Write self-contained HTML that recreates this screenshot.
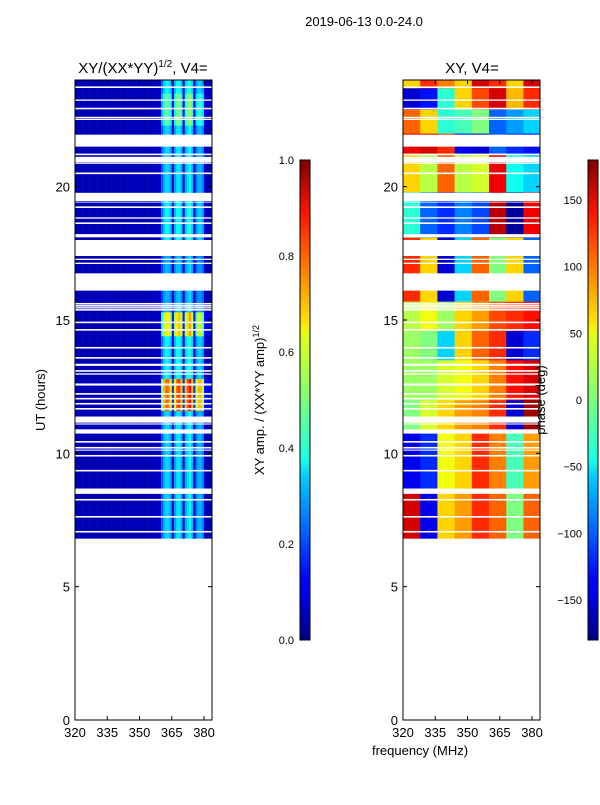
<!DOCTYPE html>
<html><head><meta charset="utf-8"><style>
body{margin:0;background:#fff;}
svg text{font-family:"Liberation Sans",sans-serif;fill:#000;}
</style></head><body>
<svg id="fig" width="600" height="800" xmlns="http://www.w3.org/2000/svg">
<defs>
<linearGradient id="jet" x1="0" y1="1" x2="0" y2="0">
<stop offset="0" stop-color="#00007f"/><stop offset="0.11" stop-color="#0000ff"/><stop offset="0.125" stop-color="#0000ff"/>
<stop offset="0.34" stop-color="#00ccff"/><stop offset="0.375" stop-color="#19ffe6"/><stop offset="0.5" stop-color="#7dff7a"/>
<stop offset="0.64" stop-color="#e6ff13"/><stop offset="0.66" stop-color="#ffe600"/><stop offset="0.89" stop-color="#ff1300"/><stop offset="1" stop-color="#7f0000"/>
</linearGradient>
<clipPath id="cl"><rect x="75" y="80" width="137" height="640"/></clipPath>
<clipPath id="cr"><rect x="403" y="80" width="137" height="640"/></clipPath>
</defs>
<text x="364" y="26" font-size="13" text-anchor="middle">2019-06-13 0.0-24.0</text>
<text x="143" y="73" font-size="15" text-anchor="middle">XY/(XX*YY)<tspan font-size="10" dy="-6">1/2</tspan><tspan dy="6">, V4=</tspan></text>
<text x="472" y="73" font-size="15" text-anchor="middle">XY, V4=</text>
<g id="gl" clip-path="url(#cl)"></g>
<g id="gr" clip-path="url(#cr)"></g>
<g id="axes"></g>
<text x="45" y="400" font-size="13" text-anchor="middle" transform="rotate(-90 45 400)">UT (hours)</text>
<text x="420" y="755" font-size="13" text-anchor="middle">frequency (MHz)</text>
<rect x="300" y="160" width="10" height="480" fill="url(#jet)" stroke="#000" stroke-width="1"/>
<rect x="588" y="160" width="10" height="480" fill="url(#jet)" stroke="#000" stroke-width="1"/>
<text x="264" y="400" font-size="13" text-anchor="middle" transform="rotate(-90 264 400)">XY amp. / (XX*YY amp)<tspan font-size="9" dy="-5">1/2</tspan></text>
<text x="545" y="400" font-size="13" text-anchor="middle" transform="rotate(-90 545 400)">phase (deg)</text>
</svg>
<script>
const freqStart=320, freqEnd=383.7, tMin=0, tMax=24;
const ampProfile=[0.05,0.05,0.05,0.06,0.05,0.05,0.06,0.05,0.05,0.05,0.06,0.05,0.05,0.05,0.06,0.05,0.05,0.05,0.06,0.05,0.05,0.06,0.05,0.05,0.05,0.06,0.05,0.05,0.06,0.05,0.05,0.06,0.05,0.05,0.06,0.05,0.06,0.06,0.07,0.08,
0.22,0.3,0.34,0.33,0.28,0.08,0.28,0.34,0.36,0.3,0.08,0.3,0.35,0.38,0.3,0.08,0.25,0.3,0.3,0.25,0.06,0.05,0.05,0.05];
const ampBlockStart=[6.8,11.6,12.8,14.4,15.3,18.0,19.5,22.3,23.5];
const ampBlockEnd=[11.6,12.8,14.4,15.3,18.0,19.5,22.3,23.5,24.0];
const ampScale=[1.0,2.3,1.1,1.9,0.9,1.1,1.0,1.4,1.1];
const phaseBlockStart=[6.8,8.5,10.8,12.0,13.5,14.6,15.7,16.7,18.1,19.8,21.2,22.0,22.9,23.7];
const phaseBlockEnd=[8.5,10.8,12.0,13.5,14.6,15.7,16.7,18.1,19.8,21.2,22.0,22.9,23.7,24.0];
const phaseValues=[
[150,-140,60,80,120,100,0,100],
[-140,-120,40,60,120,90,-20,80],
[0,30,60,80,90,120,-150,170],
[10,10,30,40,60,90,130,150],
[10,0,-60,60,100,120,-150,-120],
[20,40,10,60,80,110,120,130],
[120,60,-150,-60,100,0,60,-100],
[120,60,-150,-60,100,0,60,-100],
[-30,-100,-120,-90,-110,160,-170,140],
[60,20,100,20,30,140,-40,-60],
[140,150,120,-140,-150,-100,-120,-130],
[100,60,-30,-20,0,-100,-80,-60],
[-150,-130,-30,60,110,150,70,120],
[60,120,90,60,150,120,60,150]];
const gapStart=[0,7.03,7.59,8.23,8.48,9.32,9.88,10.1,10.18,10.4,10.74,11.08,11.15,11.64,11.83,12.02,12.2,12.54,12.95,13.06,13.28,13.55,13.93,14.6,14.88,15.35,15.43,15.5,15.58,16.1,17.1,17.25,17.4,18.1,18.6,18.8,19.2,19.4,19.45,20.47,20.85,20.9,21.18,21.5,22.5,22.57,22.9,23.22,23.7];
const gapEnd=[6.8,7.09,7.65,8.29,8.68,9.38,9.94,10.14,10.24,10.46,10.9,11.12,11.38,11.7,11.89,12.08,12.26,12.62,13.0,13.12,13.36,13.61,13.99,14.66,14.94,15.41,15.48,15.56,15.64,16.75,17.15,17.3,18.0,18.22,18.66,18.85,19.26,19.42,19.77,20.53,20.88,21.12,21.24,21.95,22.55,22.62,22.96,23.27,23.76];
const xTicks=[320,335,350,365,380];
const yTicks=[0,5,10,15,20];
const ampCbTicks=[0.0,0.2,0.4,0.6,0.8,1.0];
const phCbTicks=[-150,-100,-50,0,50,100,150];

const NS='http://www.w3.org/2000/svg';
function xs(f,x0){return x0+(f-freqStart)/(freqEnd-freqStart)*137;}
function ys(t){return 720-(t-tMin)/(tMax-tMin)*640;}
function jet(v){v=Math.max(0,Math.min(1,v));
 function c(x){return Math.max(0,Math.min(1,x));}
 const r=c(1.5-Math.abs(4*v-3)),g=c(1.5-Math.abs(4*v-2)),b=c(1.5-Math.abs(4*v-1));
 return 'rgb('+Math.round(r*255)+','+Math.round(g*255)+','+Math.round(b*255)+')';}
function mk(tag,attrs,parent){const e=document.createElementNS(NS,tag);for(const k in attrs)e.setAttribute(k,attrs[k]);parent.appendChild(e);return e;}
const gl=document.getElementById('gl'), gr=document.getElementById('gr'), ax=document.getElementById('axes');
for(let b=0;b<ampBlockStart.length;b++){
 const y0=ys(ampBlockEnd[b]), y1=ys(ampBlockStart[b]);
 for(let i=0;i<ampProfile.length;i++){
  const f=freqStart+i;
  const x0=xs(f,75), x1=xs(f+1,75);
  const v=i<40?ampProfile[i]:ampProfile[i]*ampScale[b];
  const r=mk('rect',{x:x0,y:y0,width:x1-x0+0.3,height:y1-y0+0.3,fill:jet(v)},gl);
  
  
 }}
for(let b=0;b<phaseBlockStart.length;b++){
 const y0=ys(phaseBlockEnd[b]), y1=ys(phaseBlockStart[b]);
 const vals=phaseValues[b];
 for(let i=0;i<vals.length;i++){
  const f=freqStart+i*8;
  const x0=xs(f,403), x1=xs(Math.min(f+8,freqEnd),403);
  const r=mk('rect',{x:x0,y:y0,width:x1-x0+0.3,height:y1-y0+0.3,fill:jet((vals[i]+180)/360)},gr);
  
  
 }}
for(let i=0;i<gapStart.length;i++){
 for(const [g,x] of [[gl,75],[gr,403]]){
  const r=mk('rect',{x:x,y:ys(gapEnd[i]),width:137,height:ys(gapStart[i])-ys(gapEnd[i]),fill:'#fff'},g);
  
  
 }}
for(const x0 of [75,403]){
 const fr=mk('rect',{x:x0,y:80,width:137,height:640,fill:'none',stroke:'#000','stroke-width':1},ax);
 
 
 for(const t of xTicks){const x=xs(t,x0);
  mk('line',{x1:x,x2:x,y1:720,y2:716,stroke:'#000'},ax);mk('line',{x1:x,x2:x,y1:80,y2:84,stroke:'#000'},ax);
  const tx=mk('text',{x:x,y:737,'font-size':13,'text-anchor':'middle'},ax);tx.textContent=t;
  
  }
 for(const t of yTicks){const y=ys(t);
  mk('line',{x1:x0,x2:x0+4,y1:y,y2:y,stroke:'#000'},ax);mk('line',{x1:x0+137,x2:x0+133,y1:y,y2:y,stroke:'#000'},ax);
  const tx=mk('text',{x:x0-5,y:y+5,'font-size':13,'text-anchor':'end'},ax);tx.textContent=t;
  
  }
}
for(const t of ampCbTicks){const y=640-t*480;
 mk('line',{x1:300,x2:304,y1:y,y2:y,stroke:'#000'},ax);
 const tx=mk('text',{x:294,y:y+4,'font-size':11,'text-anchor':'end'},ax);tx.textContent=t.toFixed(1);
 
 }
for(const t of phCbTicks){const y=640-(t+180)/360*480;
 mk('line',{x1:588,x2:592,y1:y,y2:y,stroke:'#000'},ax);
 const tx=mk('text',{x:582,y:y+4,'font-size':11,'text-anchor':'end'},ax);tx.textContent=(t<0?'\u2212'+(-t):t);
 
 }
</script>
</body></html>
